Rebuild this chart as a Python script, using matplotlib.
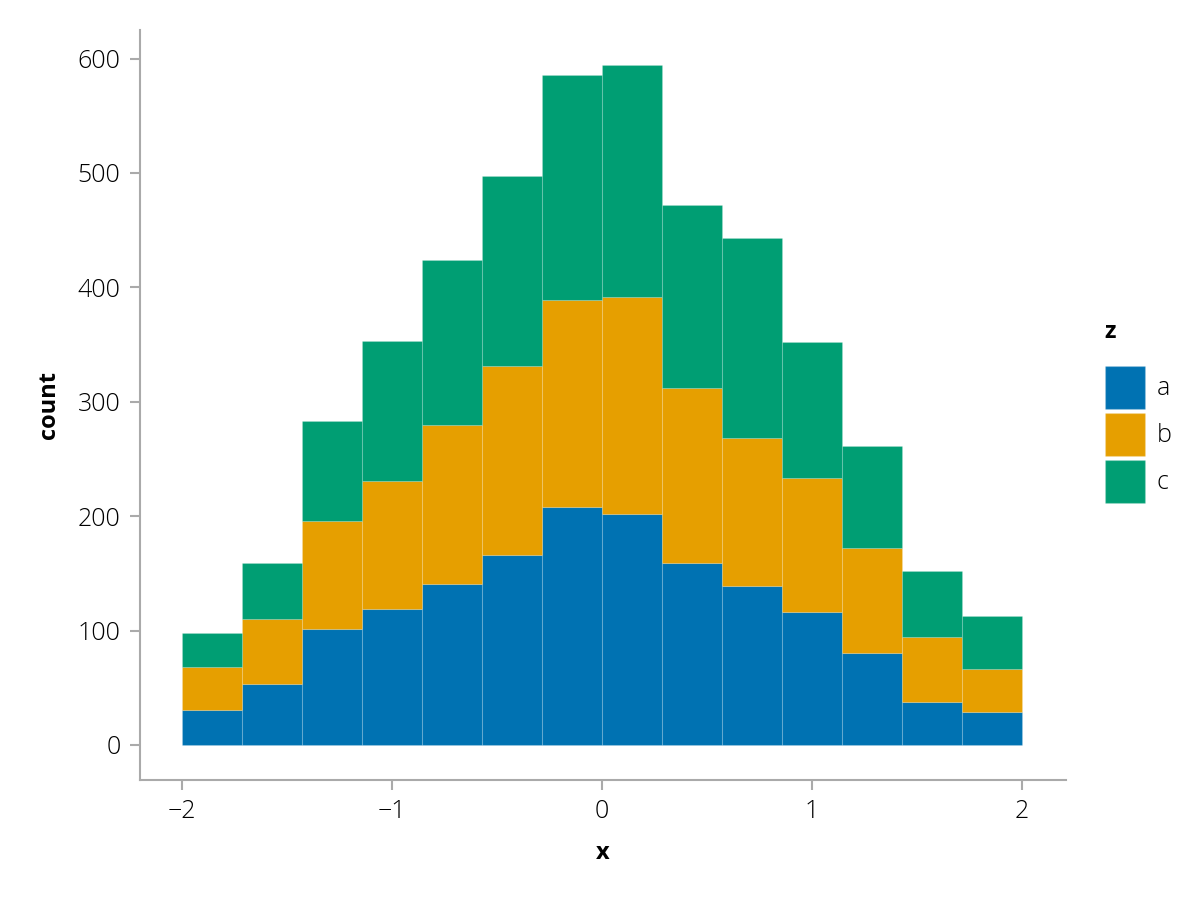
import numpy as np
import matplotlib.pyplot as plt
from matplotlib.patches import Patch

plt.rcParams['font.family'] = ['Open Sans', 'DejaVu Sans']

# --- data ---
edges = np.linspace(-2, 2, 15)
groups = ["a", "b", "c"]
count_a = [31, 53, 101, 119, 141, 166, 208, 202, 159, 139, 116, 80, 38, 29]
count_b = [37, 57, 95, 112, 139, 165, 181, 190, 153, 129, 117, 92, 56, 37]
count_c = [30, 49, 87, 122, 144, 166, 197, 202, 160, 175, 119, 89, 58, 47]
colors = ["#0072B2", "#E69F00", "#009E73"]
edge_col = (1, 1, 1, 0.15)

fig = plt.figure(figsize=(12, 9), dpi=100)
ax = fig.add_axes([140 / 1200, 120 / 900, 926 / 1200, 750 / 900])

widths = np.diff(edges)
bottom = np.zeros(len(count_a))
for name, vals, col in zip(groups, [count_a, count_b, count_c], colors):
    vals = np.array(vals)
    ax.bar(edges[:-1], vals, width=widths, bottom=bottom, align="edge",
           color=col, edgecolor=edge_col, linewidth=0.8, label=name)
    bottom = bottom + vals

ax.set_xlim(-2.2, 2.21)
ax.set_ylim(-30.6, 625)
ax.set_xticks([-2, -1, 0, 1, 2])
ax.set_xticklabels(["\u22122", "\u22121", "0", "1", "2"])
ax.set_yticks([0, 100, 200, 300, 400, 500, 600])

for s in ["top", "right"]:
    ax.spines[s].set_visible(False)
for s in ["left", "bottom"]:
    ax.spines[s].set_color("#aaaaaa")
    ax.spines[s].set_linewidth(1.5)
ax.tick_params(direction="out", length=7, width=1.5, color="#aaaaaa",
               labelsize=18, labelcolor="black", pad=7)
for lab in ax.get_xticklabels() + ax.get_yticklabels():
    lab.set_fontweight("light")
ax.set_xlabel("x", fontsize=17, fontweight="bold", labelpad=12)
ax.set_ylabel("count", fontsize=17, fontweight="bold", labelpad=12)

handles = [Patch(facecolor=c, edgecolor=edge_col, label=g) for g, c in zip(groups, colors)]
leg = fig.legend(handles=handles, title="z", loc="center left",
                 bbox_to_anchor=(1082 / 1200, 0.543), frameon=False,
                 prop={"size": 18, "weight": "light"},
                 title_fontproperties={"weight": "bold", "size": 17},
                 handlelength=1.6, handleheight=2.25, labelspacing=0.17,
                 handletextpad=0.5, alignment="left")
leg._legend_box.sep = 16
for t in leg.get_texts():
    t.set_color("black")

fig.savefig("out.png", dpi=100)
